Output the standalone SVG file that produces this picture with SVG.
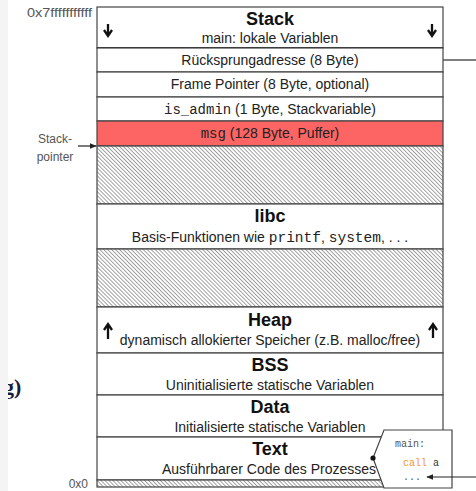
<svg xmlns="http://www.w3.org/2000/svg" width="476" height="491" viewBox="0 0 476 491">
<defs>
<style>
.t{font-family:"Liberation Sans",Arial,sans-serif;font-size:14px;fill:#222;text-anchor:middle}
.h{font-family:"Liberation Sans",Arial,sans-serif;font-size:18px;font-weight:bold;fill:#111;text-anchor:middle}
.m{font-family:"Liberation Mono","Courier New",monospace}
.lbl{font-family:"Liberation Sans",Arial,sans-serif;font-size:12px;fill:#555}
.box{fill:#fff;stroke:#444;stroke-width:1.2}
.hat{fill:url(#hatch);stroke:#444;stroke-width:1.2}
.cm{font-family:"Liberation Mono","Courier New",monospace;font-size:10px;fill:#555}
</style>
<pattern id="hatch" patternUnits="userSpaceOnUse" width="2.8" height="2.8" patternTransform="rotate(-45)">
<rect width="2.8" height="2.8" fill="#fff"/>
<line x1="0" y1="0" x2="0" y2="2.8" stroke="#7a7a7a" stroke-width="1.4"/>
</pattern>
<marker id="ah" viewBox="0 0 10 10" refX="9" refY="5" markerWidth="7" markerHeight="7" orient="auto-start-reverse" markerUnits="userSpaceOnUse">
<path d="M0,1 L10,5 L0,9 Z" fill="#222"/>
</marker>
</defs>
<rect width="476" height="491" fill="#fff"/>
<text x="3" y="394" font-family="Liberation Serif,serif" font-size="22" font-weight="bold" fill="#1c1c3c">g)</text>
<rect x="0" y="0" width="8" height="491" fill="#f4f4f4"/>

<g id="labels">
<text class="lbl" x="92" y="17" text-anchor="end" font-size="12.5" textLength="65" lengthAdjust="spacingAndGlyphs">0x7fffffffffff</text>
<text class="lbl" x="55" y="143" text-anchor="middle" font-size="14" fill="#222">Stack-</text>
<text class="lbl" x="55" y="161" text-anchor="middle" font-size="14" fill="#222">pointer</text>
<text class="lbl" x="88" y="488" text-anchor="end" font-size="12">0x0</text>
</g>

<g id="stack">
<rect class="box" x="97" y="7" width="346" height="41"/>
<text class="h" x="270" y="25">Stack</text>
<text class="t" x="270" y="43">main: lokale Variablen</text>
<path d="M108,24 V34 M104,30 L108,36 L112,30" stroke="#111" stroke-width="2.3" fill="none"/>
<path d="M432,24 V34 M428,30 L432,36 L436,30" stroke="#111" stroke-width="2.3" fill="none"/>
<line x1="97" y1="48" x2="443" y2="48" stroke="#333" stroke-width="1.8"/>
</g>
<g id="ruecksprung">
<rect class="box" x="97" y="48" width="346" height="24"/>
<text class="t" x="270" y="65">Rücksprungadresse (8 Byte)</text>
</g>
<g id="framepointer">
<rect class="box" x="97" y="72" width="346" height="25"/>
<text class="t" x="270" y="89">Frame Pointer (8 Byte, optional)</text>
</g>
<g id="isadmin">
<rect class="box" x="97" y="97" width="346" height="24"/>
<text class="t" x="270" y="114"><tspan class="m" font-size="14">is_admin</tspan> (1 Byte, Stackvariable)</text>
</g>
<g id="msg">
<rect x="97" y="121" width="346" height="25" fill="#fd6464" stroke="#444" stroke-width="1.2"/>
<text class="t" x="270" y="138"><tspan class="m" font-size="14">msg</tspan> (128 Byte, Puffer)</text>
</g>
<g id="free1"><rect class="hat" x="97" y="146" width="346" height="58"/></g>
<g id="libc">
<rect class="box" x="97" y="204" width="346" height="45"/>
<text class="h" x="270" y="222">libc</text>
<text class="t" x="270" y="242">Basis-Funktionen wie <tspan class="m" font-size="14.5">printf</tspan>, <tspan class="m" font-size="14.5">system</tspan>, . . .</text>
</g>
<g id="free2"><rect class="hat" x="97" y="249" width="346" height="58"/></g>
<g id="heap">
<rect class="box" x="97" y="307" width="346" height="46"/>
<text class="h" x="270" y="326">Heap</text>
<text class="t" x="270" y="345">dynamisch allokierter Speicher (z.B. malloc/free)</text>
<path d="M108,339 V326 M104,330 L108,324 L112,330" stroke="#111" stroke-width="2.3" fill="none"/>
<path d="M433,338 V326 M429,330 L433,324 L437,330" stroke="#111" stroke-width="2.3" fill="none"/>
</g>
<g id="bss">
<rect class="box" x="97" y="353" width="346" height="42"/>
<text class="h" x="270" y="371">BSS</text>
<text class="t" x="270" y="390">Uninitialisierte statische Variablen</text>
</g>
<g id="data">
<rect class="box" x="97" y="395" width="346" height="42"/>
<text class="h" x="270" y="413">Data</text>
<text class="t" x="270" y="432">Initialisierte statische Variablen</text>
</g>
<g id="text">
<rect class="box" x="97" y="437" width="346" height="43"/>
<text class="h" x="270" y="455">Text</text>
<text class="t" x="269" y="474">Ausführbarer Code des Prozesses</text>
</g>
<g id="bottom"><rect class="hat" x="97" y="480" width="346" height="7"/></g>

<g id="callout">
<polygon points="384,430 452,430 452,488 384,488 373,458" fill="#fff" stroke="#444" stroke-width="1.2"/>
<circle cx="373" cy="458" r="2.6" fill="#111"/>
<text class="cm" x="395" y="447">main:</text>
<text class="cm" x="403" y="466" font-size="11"><tspan fill="#f7931e">call</tspan><tspan fill="#333"> a</tspan></text>
<text class="cm" x="403" y="480" font-size="11">...</text>
</g>

<g id="connectors">
<line x1="78" y1="146" x2="96" y2="146" stroke="#222" stroke-width="1.2" marker-end="url(#ah)"/>
<line x1="443" y1="60" x2="476" y2="60" stroke="#555" stroke-width="1.6"/>
<line x1="476" y1="477" x2="427" y2="477" stroke="#222" stroke-width="1.2" marker-end="url(#ah)"/>
</g>
</svg>
